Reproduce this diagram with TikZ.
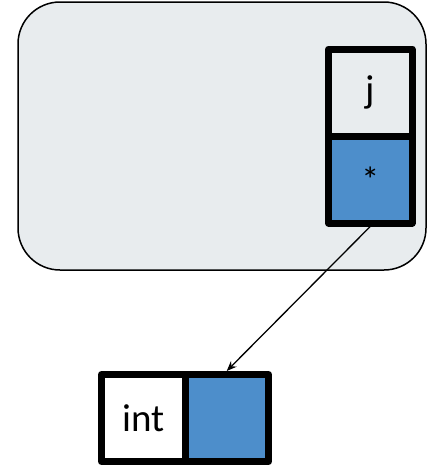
\documentclass[tikz,border=0pt]{standalone}
\usepackage{fontspec}
\setmainfont{Carlito}
\usetikzlibrary{arrows.meta}
\definecolor{framebg}{HTML}{E8ECEE}
\definecolor{cellblue}{HTML}{4D8ECB}
\tikzset{
  frame/.style={draw=black, line width=1.5pt, fill=framebg, rounded corners=42pt, inner sep=0pt},
  cell/.style={draw=black, line width=7pt, inner sep=0pt, line join=round,
    minimum width=83.5pt, minimum height=87pt, font=\fontsize{39}{42}\selectfont},
  link/.style={draw=black, line width=1.3pt, -{Stealth[length=10pt,width=8pt]}}
}
\begin{document}
\begin{tikzpicture}[x=1pt,y=-1pt]
\useasboundingbox (0,0) rectangle (427,466);
\node[frame, minimum width=408pt, minimum height=268pt] (frame) at (222,136) {};
\node[cell, fill=framebg] (j) at (370.25,92.5) {j};
\node[cell, fill=cellblue, font=\fontsize{36}{40}\selectfont] (ptr) at (370.25,179.5) {*};
\node[cell, fill=white] (int) at (143.25,418) {int};
\node[cell, fill=cellblue] (val) at (226.75,418) {};
\draw[link] (ptr.south) -- (val.north);
\end{tikzpicture}
\end{document}
